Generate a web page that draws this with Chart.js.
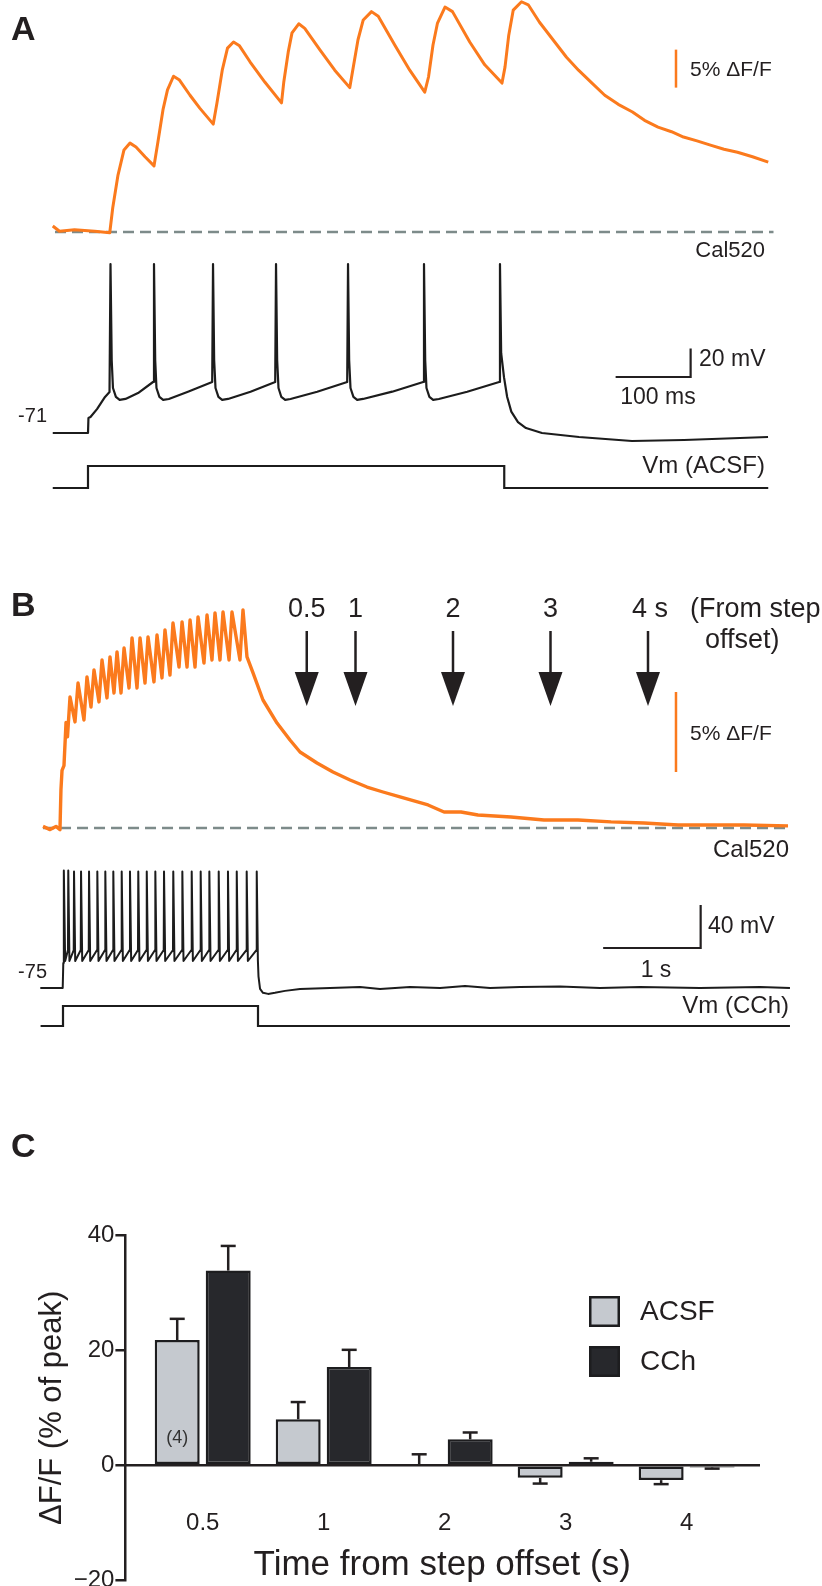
<!DOCTYPE html>
<html>
<head>
<meta charset="utf-8">
<script src="https://cdn.jsdelivr.net/npm/chart.js@4.4.0/dist/chart.umd.min.js"></script>
<style>
  html, body { margin: 0; padding: 0; background: #fff; }
  body { width: 822px; height: 1586px; position: relative; overflow: hidden; }
  canvas { position: absolute; left: 0; }
</style>
</head>
<body>
<canvas id="painelA" width="822" height="520" style="top:0"></canvas>
<canvas id="painelB" width="822" height="520" style="top:560px"></canvas>
<canvas id="painelC" width="822" height="580" style="top:1100px"></canvas>
<script>
// Painel A: tempo em ms desde o inicio do degrau, Cal520 em % dF/F, Vm em mV
const calA_t = [-47, -38, -18, 9, 29, 33, 40, 48, 56, 64, 76, 88, 93, 100, 106, 114, 122, 136, 149, 167,
  172, 179, 186, 194, 202, 216, 236, 258, 261, 267, 272, 281, 289, 309, 329, 349, 353, 360, 367, 378,
  387, 409, 429, 449, 454, 460, 466, 476, 486, 509, 529, 552, 556, 561, 567, 578, 587, 602, 620, 638,
  654, 672, 689, 707, 726, 742, 760, 778, 794, 812, 831, 848, 866, 886, 907];
const calA_v = [0.8, 0.1, 0.3, 0.1, -0.1, 3.2, 7.5, 10.8, 11.7, 11.2, 9.9, 8.7, 11.7, 16.1, 18.7, 20.5, 20.0, 18.0, 16.3, 14.2,
  17.0, 21.3, 24.2, 25.0, 24.5, 22.4, 19.7, 17.0, 19.7, 23.7, 26.2, 27.4, 26.8, 24.0, 21.3, 19.0, 21.3, 25.3, 27.9, 29.0,
  28.4, 24.6, 21.3, 18.4, 20.4, 24.6, 27.5, 29.6, 29.0, 25.0, 22.0, 19.6, 21.7, 25.9, 29.2, 30.3, 29.9, 27.6, 25.3, 23.0,
  21.3, 19.6, 18.0, 16.8, 15.8, 14.7, 13.8, 13.2, 12.5, 12.0, 11.4, 10.9, 10.5, 9.9, 9.2];
const baseA_t = [-44, 914];

const vmA_t = [-47, 0, 0.6, 3.3, 12, 22.7, 28.7, 30, 31.6, 33.3, 37.2, 42.2, 50, 66.7, 86.7,
  88, 89.6, 91.3, 95.2, 100.2, 107.8, 133.3, 165.6,
  166.7, 168.2, 170, 173.9, 178.9, 186.7, 216.7, 249.6,
  250.7, 252.2, 254, 257.8, 262.9, 270, 305.6, 345.6,
  346.7, 348.2, 350, 353.9, 358.9, 366.7, 405.6, 446.9,
  448, 449.6, 451.3, 455.2, 460.2, 467.8, 505.6, 548.2,
  549.3, 550.9, 554.7, 558.9, 564.4, 573.3, 584, 605.3, 654.7, 725.3, 794.7, 906.7];
const vmA_v = [-71, -71, -60.5, -59.8, -54.2, -45.7, -42.2, 47.6, -19.8, -39.4, -45.7, -47.8, -47.1, -43, -35.2,
  47.6, -19.8, -39.4, -45.7, -47.8, -47.1, -42, -35.2,
  47.6, -19.8, -39.4, -45.7, -47.8, -47.1, -42, -35.2,
  47.6, -19.8, -39.4, -45.7, -47.8, -47.1, -42, -35.2,
  47.6, -19.8, -39.4, -45.7, -47.8, -47.1, -42, -35.2,
  47.6, -19.8, -39.4, -45.7, -47.8, -47.1, -42, -35.2,
  47.6, -15, -32, -45.7, -56, -63.3, -67.5, -71, -73.8, -76.6, -75.9, -73.8];

const degrauA_t = [-47, 0, 0, 555, 555, 907];
const degrauA_v = [0, 0, 1, 1, 0, 0];

// Painel B: tempo em s desde o inicio do degrau
const calB_t = [-0.205, -0.133, -0.072, -0.031, -0.021, -0.01, 0.01, 0.031, 0.046,
  0.072, 0.123, 0.154, 0.215, 0.246, 0.287, 0.318, 0.369, 0.4, 0.451, 0.482, 0.523, 0.554, 0.595,
  0.626, 0.677, 0.708, 0.759, 0.79, 0.841, 0.872, 0.933, 0.964, 1.015, 1.046, 1.097, 1.128, 1.19,
  1.221, 1.272, 1.303, 1.354, 1.385, 1.446, 1.477, 1.528, 1.559, 1.61, 1.641, 1.703, 1.733, 1.815, 1.846,
  1.887, 1.949, 2.051, 2.195, 2.328, 2.431, 2.605, 2.769, 2.944, 3.118, 3.282, 3.456, 3.744, 3.908,
  4.082, 4.256, 4.595, 4.933, 5.282, 5.621, 5.959, 6.308, 6.646, 6.985, 7.436];
const calB_v = [0.1, -0.1, 0.1, -0.1, 2.4, 3.6, 3.9, 6.6, 5.7,
  8.19, 6.63, 9.06, 6.75, 9.44, 7.56, 9.88, 7.88, 10.5, 8.13, 10.69, 8.44, 11.0, 8.44,
  11.25, 8.75, 11.88, 8.75, 11.88, 9.06, 11.94, 9.13, 12.06, 9.38, 12.38, 9.56, 12.81, 10.06,
  12.88, 10.06, 13.0, 10.06, 13.19, 10.31, 13.31, 10.5, 13.44, 10.5, 13.5, 10.5, 13.5, 10.5, 13.63,
  10.69, 9.69, 8.0, 6.56, 5.5, 4.75, 4.06, 3.5, 3.0, 2.56, 2.25, 1.94, 1.44, 1.0,
  1.0, 0.81, 0.69, 0.5, 0.5, 0.38, 0.31, 0.19, 0.19, 0.19, 0.13];
const baseB_t = [-0.205, 7.436];

const vmB_ini_t = [-0.233, -0.003, 0.003];
const vmB_ini_v = [-75, -75, -51.7];
const vmB_disparos = [0.010, 0.054, 0.113, 0.185, 0.267, 0.352, 0.434, 0.516, 0.602, 0.687, 0.772, 0.859,
  0.947, 1.036, 1.131, 1.224, 1.320, 1.412, 1.501, 1.597, 1.692, 1.782, 1.884, 1.987];
const vmB_pico = [34.2, 34.2, 33.3, 33.3, 33.3, 33.3, 33.3, 33.3, 33.3, 33.3, 33.3, 33.3,
  33.3, 33.3, 33.3, 33.3, 33.3, 33.3, 33.3, 33.3, 33.3, 33.3, 33.3, 33.3];
const vmB_limiar = [-39.7, -39.7, -39.7, -39.7, -39.7, -39.7, -39.7, -39.7, -39.7, -39.7, -39.7, -39.7,
  -39.7, -39.7, -39.7, -39.7, -39.7, -39.7, -39.7, -39.7, -39.7, -39.7, -39.7, -39.7];
const vmB_ahp = [-49.9, -49.9, -49.9, -49.9, -49.9, -49.9, -49.9, -49.9, -49.9, -49.9, -49.9, -49.9,
  -49.9, -49.9, -49.9, -49.9, -49.9, -49.9, -49.9, -49.9, -49.9, -49.9, -49.9, -49.9];
const vmB_fim_t = [2.005, 2.021, 2.051, 2.103, 2.174, 2.277, 2.431, 2.739, 3.046, 3.251, 3.559, 3.867,
  4.123, 4.380, 4.687, 5.097, 5.508, 5.918, 6.533, 7.149, 7.456];
const vmB_fim_v = [-64.1, -75.9, -79.5, -80.5, -79.5, -77.7, -75.9, -75, -74.1, -75.9, -74.1, -75,
  -73.2, -75, -74.1, -73.6, -75, -74.1, -75, -74.1, -75];

const degrauB_t = [-0.23, 0, 0, 2.0, 2.0, 7.456];
const degrauB_v = [0, 0, 1, 1, 0, 0];

const fimDegrauB = 2.0;
const setasB = [0.5, 1, 2, 3, 4];
const setasB_txt = ['0.5', '1', '2', '3', '4 s'];

// Painel C
const tempos = ['0.5', '1', '2', '3', '4'];
const acsfMedia = [21.8, 8.0, 0, -2.2, -2.6];
const acsfErro = [3.7, 3.0, 1.9, 1.0, 0.7];
const cchMedia = [33.9, 17.1, 4.5, 0.6, -0.4];
const cchErro = [4.3, 3.0, 1.2, 0.6, 0.2];

// Cores e fontes
const INK = '#231f20';
const LARANJA = '#fb7a1d';
const TRACO = '#7d8b8a';
const FONTE = '"Liberation Sans", Arial, sans-serif';
const LBL = '24px ' + FONTE;
const PEQ = '21px ' + FONTE;
const LETRA = 'bold 34px ' + FONTE;

Chart.defaults.font.family = FONTE;
Chart.defaults.color = INK;
Chart.defaults.animation = false;

function pontos(ts, vs) {
  return ts.map((t, i) => ({ x: t, y: vs[i] }));
}

function escrever(ctx, txt, x, y, align, font, cor) {
  ctx.save();
  ctx.font = font || LBL;
  ctx.textAlign = align;
  ctx.textBaseline = 'middle';
  ctx.fillStyle = cor || INK;
  ctx.fillText(txt, x, y);
  ctx.restore();
}

function linha(ctx, pts, cor, w) {
  ctx.save();
  ctx.strokeStyle = cor;
  ctx.lineWidth = w;
  ctx.lineJoin = 'miter';
  ctx.beginPath();
  pts.forEach(([x, y], i) => i ? ctx.lineTo(x, y) : ctx.moveTo(x, y));
  ctx.stroke();
  ctx.restore();
}

function serie(data, eixo, cor, largura, extra) {
  return Object.assign({
    data, yAxisID: eixo, borderColor: cor, borderWidth: largura,
    pointRadius: 0, tension: 0, fill: false, borderJoinStyle: 'round'
  }, extra || {});
}

function graficoTraco(id, xr, yF, yV, yS, datasets, plugin) {
  const escondido = (r) => ({ type: 'linear', display: false, min: r[0], max: r[1] });
  return new Chart(document.getElementById(id), {
    type: 'line',
    data: { datasets },
    options: {
      responsive: false,
      devicePixelRatio: 1,
      animation: false,
      layout: { padding: 0 },
      plugins: { legend: { display: false }, tooltip: { enabled: false } },
      scales: { x: escondido(xr), yF: escondido(yF), yV: escondido(yV), yS: escondido(yS) }
    },
    plugins: [plugin]
  });
}

// Anotacoes do painel A
const notasA = {
  id: 'notasA',
  afterDraw(chart) {
    const { ctx, scales: { x, yF, yV } } = chart;
    escrever(ctx, 'A', 11, 31, 'left', LETRA);
    // barra de 5% dF/F
    const fx = x.getPixelForValue(784);
    linha(ctx, [[fx, yF.getPixelForValue(19)], [fx, yF.getPixelForValue(24)]], LARANJA, 2.5);
    escrever(ctx, '5% \u0394F/F', 690, 70, 'left', PEQ);
    escrever(ctx, 'Cal520', 765, 251, 'right', '22px ' + FONTE);
    // barra 20 mV / 100 ms
    const bx = x.getPixelForValue(803.5);
    linha(ctx, [[x.getPixelForValue(703.5), yV.getPixelForValue(-31.7)], [bx, yV.getPixelForValue(-31.7)],
      [bx, yV.getPixelForValue(-11.7)]], INK, 2.2);
    escrever(ctx, '20 mV', 699, 360, 'left', '23px ' + FONTE);
    escrever(ctx, '100 ms', 658, 398, 'center', '23px ' + FONTE);
    escrever(ctx, '-71', 47, 416, 'right', '20px ' + FONTE);
    escrever(ctx, 'Vm (ACSF)', 765, 466, 'right');
  }
};

graficoTraco('painelA', [-117.33, 978.67], [-37.89, 30.53], [-132.05, 232.9], [-1.4545, 22.18], [
  serie(pontos(calA_t, calA_v), 'yF', LARANJA, 3),
  serie(pontos(baseA_t, [0, 0]), 'yF', TRACO, 2.5, { borderDash: [11, 6] }),
  serie(pontos(vmA_t, vmA_v), 'yV', '#1c1c1c', 2.2),
  serie(pontos(degrauA_t, degrauA_v), 'yS', '#1c1c1c', 2.2, { borderJoinStyle: 'miter' })
], notasA);

// Vm do painel B: inicio, disparos e cauda
const vmB = pontos(vmB_ini_t, vmB_ini_v);
vmB_disparos.forEach((t, i) => {
  vmB.push({ x: t - 0.003, y: vmB_limiar[i] }, { x: t, y: vmB_pico[i] }, { x: t + 0.012, y: vmB_ahp[i] });
});
vmB.push(...pontos(vmB_fim_t, vmB_fim_v));

const notasB = {
  id: 'notasB',
  afterDraw(chart) {
    const { ctx, scales: { x, yF, yV } } = chart;
    escrever(ctx, 'B', 11, 47, 'left', LETRA);
    const f27 = '27px ' + FONTE;
    setasB.forEach((s, i) => {
      const px = x.getPixelForValue(fimDegrauB + s);
      linha(ctx, [[px, 71], [px, 114]], INK, 2.5);
      ctx.save();
      ctx.fillStyle = INK;
      ctx.beginPath();
      ctx.moveTo(px - 12, 112);
      ctx.lineTo(px + 12, 112);
      ctx.lineTo(px, 146);
      ctx.closePath();
      ctx.fill();
      ctx.restore();
      if (i < setasB.length - 1) escrever(ctx, setasB_txt[i], px, 50, 'center', f27);
      else escrever(ctx, setasB_txt[i], px - 16, 50, 'left', f27);
    });
    escrever(ctx, '(From step', 690, 50, 'left', f27);
    escrever(ctx, 'offset)', 705, 81, 'left', f27);
    // barra de 5% dF/F
    const fx = x.getPixelForValue(6.287);
    linha(ctx, [[fx, yF.getPixelForValue(3.5)], [fx, yF.getPixelForValue(8.5)]], LARANJA, 2.5);
    escrever(ctx, '5% \u0394F/F', 690, 174, 'left', PEQ);
    escrever(ctx, 'Cal520', 789, 290, 'right');
    // barra 40 mV / 1 s
    const cx = x.getPixelForValue(6.54);
    linha(ctx, [[x.getPixelForValue(5.54), yV.getPixelForValue(-37.8)], [cx, yV.getPixelForValue(-37.8)],
      [cx, yV.getPixelForValue(2.2)]], INK, 2.2);
    escrever(ctx, '40 mV', 708, 367, 'left', '23px ' + FONTE);
    escrever(ctx, '1 s', 656, 411, 'center', '23px ' + FONTE);
    escrever(ctx, '-75', 47, 412, 'right', '20px ' + FONTE);
    escrever(ctx, 'Vm (CCh)', 789, 446, 'right');
  }
};

graficoTraco('painelB', [-0.6462, 7.7846], [-15.75, 16.75], [-160.6, 323.1], [-2.7, 23.3], [
  serie(pontos(calB_t, calB_v), 'yF', LARANJA, 3.4),
  serie(pontos(baseB_t, [0, 0]), 'yF', TRACO, 2.5, { borderDash: [11, 6] }),
  serie(vmB, 'yV', '#1c1c1c', 2),
  serie(pontos(degrauB_t, degrauB_v), 'yS', '#1c1c1c', 2.2, { borderJoinStyle: 'miter' })
], notasB);

// Painel C: barras com erro, legenda e anotacoes
const notasC = {
  id: 'notasC',
  afterDraw(chart) {
    const { ctx, scales: { y } } = chart;
    escrever(ctx, 'C', 11, 48, 'left', LETRA);
    const erros = [acsfErro, cchErro];
    chart.data.datasets.forEach((ds, d) => {
      chart.getDatasetMeta(d).data.forEach((bar, i) => {
        const m = ds.data[i].y;
        const ponta = m >= 0 ? m + erros[d][i] : m - erros[d][i];
        const y0 = y.getPixelForValue(m);
        const y1 = y.getPixelForValue(ponta);
        linha(ctx, [[bar.x, y0], [bar.x, y1]], INK, 2.5);
        linha(ctx, [[bar.x - 7.5, y1], [bar.x + 7.5, y1]], INK, 2.5);
      });
    });
    const b0 = chart.getDatasetMeta(0).data[0];
    escrever(ctx, '(4)', b0.x, y.getPixelForValue(0) - 27, 'center', '18px ' + FONTE, '#333');
    // legenda
    const legY = [196, 246];
    chart.data.datasets.forEach((ds, d) => {
      ctx.save();
      ctx.fillStyle = ds.backgroundColor;
      ctx.fillRect(589, legY[d], 31, 31);
      ctx.strokeStyle = ds.borderColor;
      ctx.lineWidth = 2.5;
      ctx.strokeRect(590.25, legY[d] + 1.25, 28.5, 28.5);
      ctx.restore();
      escrever(ctx, ds.label, 640, legY[d] + 16, 'left', '28px ' + FONTE);
    });
  }
};

new Chart(document.getElementById('painelC'), {
  type: 'bar',
  data: {
    datasets: [
      {
        label: 'ACSF', data: tempos.map((t, i) => ({ x: i, y: acsfMedia[i] })),
        backgroundColor: '#c5c9cf', borderColor: '#1d1d1f', borderWidth: 2.5, borderSkipped: false
      },
      {
        label: 'CCh', data: tempos.map((t, i) => ({ x: i, y: cchMedia[i] })),
        backgroundColor: '#27282c', borderColor: '#1d1d1f', borderWidth: 2.5, borderSkipped: false
      }
    ]
  },
  options: {
    responsive: false,
    devicePixelRatio: 1,
    animation: false,
    categoryPercentage: 0.843,
    barPercentage: 0.882,
    layout: { padding: { top: 135.6, right: 63, bottom: 100, left: 0 } },
    plugins: { legend: { display: false }, tooltip: { enabled: false } },
    scales: {
      x: {
        type: 'linear',
        position: { y: 0 },
        min: -0.639,
        max: 4.598,
        offset: false,
        afterBuildTicks: (s) => { s.ticks = tempos.map((t, i) => ({ value: i })); },
        afterFit: (s) => { s.height = 121; },
        grid: { display: true, drawOnChartArea: false, drawTicks: false, offset: false },
        border: { display: true, width: 2.5, color: INK },
        ticks: {
          padding: 44, autoSkip: false, maxRotation: 0, color: INK,
          font: { size: 24 }, callback: (v, i) => tempos[i]
        },
        title: { display: true, text: 'Time from step offset (s)', color: INK, font: { size: 35 }, padding: 0 }
      },
      y: {
        min: -20,
        max: 40,
        afterFit: (s) => { s.width = 125.4; },
        ticks: {
          stepSize: 20, padding: 1, color: INK, font: { size: 24 },
          callback: (v) => v < 0 ? '\u2212' + Math.abs(v) : v
        },
        grid: { drawOnChartArea: false, drawTicks: true, tickLength: 10, lineWidth: 2.5, color: INK },
        border: { display: true, width: 2.5, color: INK },
        title: {
          display: true, text: '\u0394F/F (% of peak)', color: INK,
          font: { size: 31 }, padding: { top: 34, bottom: 0 }
        }
      }
    }
  },
  plugins: [notasC]
});
</script>
</body>
</html>
